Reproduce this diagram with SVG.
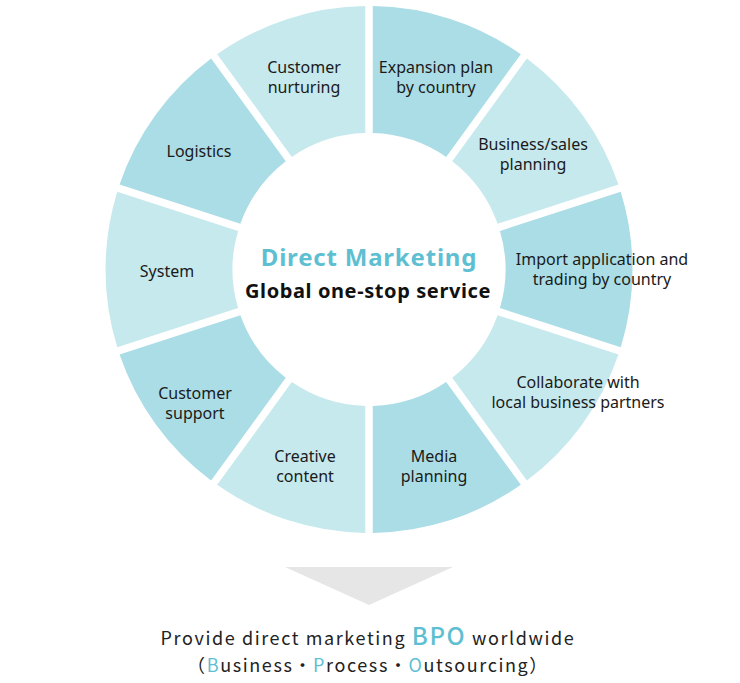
<svg xmlns="http://www.w3.org/2000/svg" xmlns:xlink="http://www.w3.org/1999/xlink" width="740" height="683" viewBox="0 0 740 683">
<style>
.dark{fill:#abdde6}
.light{fill:#c6e9ed}
.lbl{font-family:"Noto Sans","Liberation Sans",sans-serif;font-size:16px;fill:#1a1a1a;text-anchor:middle}
.title{font-family:"Noto Sans","Liberation Sans",sans-serif;font-weight:bold;text-anchor:middle}
.foot{font-family:"Noto Sans CJK JP","Noto Sans",sans-serif;font-size:18px;font-weight:400;fill:#222;letter-spacing:1.6px;text-anchor:middle}
.hl{fill:#5fbfd2}
</style>
<defs>
<path id="seg" d="M372.75,6.03 A263.5,263.5 0 0 1 520.83,54.14 L446.17,156.91 A136.5,136.5 0 0 0 372.75,133.05 Z"/>
</defs>
<rect width="740" height="683" fill="#fff"/>
<g id="expansion"><use xlink:href="#seg" href="#seg" class="dark"/><text class="lbl"><tspan x="436" y="73">Expansion plan</tspan><tspan x="436" y="93">by country</tspan></text></g>
<g id="business"><use xlink:href="#seg" href="#seg" class="light" transform="rotate(36 369 269.5)"/><text class="lbl"><tspan x="533" y="150">Business/sales</tspan><tspan x="533" y="170">planning</tspan></text></g>
<g id="import"><use xlink:href="#seg" href="#seg" class="dark" transform="rotate(72 369 269.5)"/><text class="lbl"><tspan x="602" y="265">Import application and</tspan><tspan x="602" y="285">trading by country</tspan></text></g>
<g id="collaborate"><use xlink:href="#seg" href="#seg" class="light" transform="rotate(108 369 269.5)"/><text class="lbl"><tspan x="578" y="388">Collaborate with</tspan><tspan x="578" y="408">local business partners</tspan></text></g>
<g id="media"><use xlink:href="#seg" href="#seg" class="dark" transform="rotate(144 369 269.5)"/><text class="lbl"><tspan x="434" y="462">Media</tspan><tspan x="434" y="482">planning</tspan></text></g>
<g id="creative"><use xlink:href="#seg" href="#seg" class="light" transform="rotate(180 369 269.5)"/><text class="lbl"><tspan x="305" y="462">Creative</tspan><tspan x="305" y="482">content</tspan></text></g>
<g id="support"><use xlink:href="#seg" href="#seg" class="dark" transform="rotate(216 369 269.5)"/><text class="lbl"><tspan x="195" y="399">Customer</tspan><tspan x="195" y="419">support</tspan></text></g>
<g id="system"><use xlink:href="#seg" href="#seg" class="light" transform="rotate(252 369 269.5)"/><text class="lbl" x="167" y="277">System</text></g>
<g id="logistics"><use xlink:href="#seg" href="#seg" class="dark" transform="rotate(288 369 269.5)"/><text class="lbl" x="199" y="157">Logistics</text></g>
<g id="nurturing"><use xlink:href="#seg" href="#seg" class="light" transform="rotate(324 369 269.5)"/><text class="lbl"><tspan x="304" y="73">Customer</tspan><tspan x="304" y="93">nurturing</tspan></text></g>
<g id="center">
<text class="title" x="369" y="266" font-size="24" fill="#5fbfd2" letter-spacing="0.8">Direct Marketing</text>
<text class="title" x="368" y="298" font-size="20" fill="#111" letter-spacing="0.6">Global one-stop service</text>
</g>
<g id="connectors">
<polygon points="285,567 453,567 369,605" fill="#e6e6e6"/>
</g>
<g id="result">
<text class="foot" x="368" y="645">Provide direct marketing <tspan class="hl" font-size="24" font-weight="500">BPO</tspan> worldwide</text>
<text class="foot" x="368" y="672">（<tspan class="hl">B</tspan>usiness・<tspan class="hl">P</tspan>rocess・<tspan class="hl">O</tspan>utsourcing）</text>
</g>
</svg>
